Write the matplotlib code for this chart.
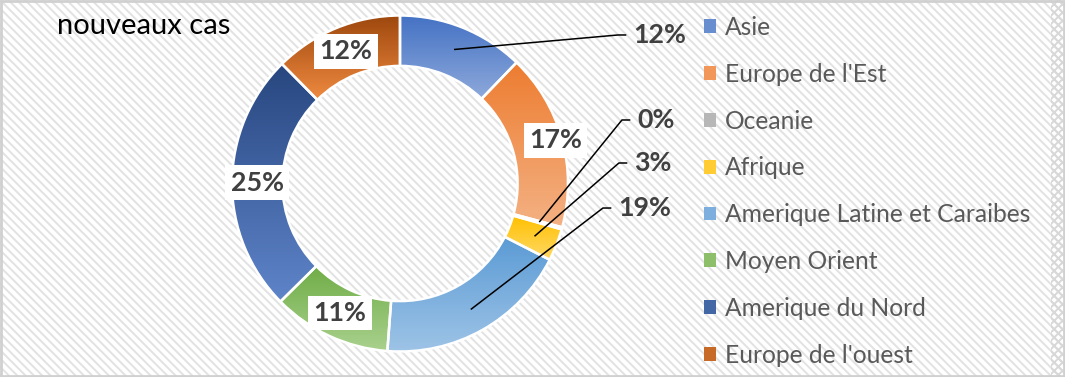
import numpy as np
import matplotlib
matplotlib.use("Agg")
import matplotlib.pyplot as plt
from matplotlib.patches import Rectangle, Patch
from matplotlib.colors import to_rgb

# data
regions = ["Asie", "Europe de l'Est", "Oceanie", "Afrique",
           "Amerique Latine et Caraibes", "Moyen Orient",
           "Amerique du Nord", "Europe de l'ouest"]
shares = [12.2, 17.0, 0.2, 3.1, 18.7, 11.4, 25.0, 12.4]

# gradient colours (top -> bottom of each slice)
tops = ["#4472C4", "#ED7D31", "#A5A5A5", "#FFC000",
        "#5B9BD5", "#70AD47", "#284780", "#9E480E"]
bottoms = ["#8EA9DB", "#F4B183", "#C9C9C9", "#FFD966",
           "#9DC3E6", "#A9D18E", "#5E84C9", "#EF8A40"]

# label layout: None = inside the ring, else left edge (x, y) of an outside label, pie units
outside = [(1.387, 0.884), None, (1.411, 0.378), (1.393, 0.122),
           (1.298, -0.146), None, None, None]
inside_r = [0.85, 0.96, 0.85, 0.85, 0.85, 0.85, 0.85, 0.85]

plt.rcParams['font.family'] = ['Lato', 'DejaVu Sans']
plt.rcParams['hatch.linewidth'] = 1.4

W, H = 1065, 377
fig = plt.figure(figsize=(W / 100, H / 100), dpi=100)
fig.patch.set_facecolor("white")

# hatched background + border, drawn in a full-figure axes
bg = fig.add_axes([0, 0, 1, 1], zorder=-10)
bg.set_xlim(0, W)
bg.set_ylim(H, 0)
bg.axis("off")
bg.add_patch(Rectangle((0, 0), W, H, facecolor="white", edgecolor="#E2E2E2",
                       hatch="\\\\\\\\", lw=0))
bg.add_patch(Rectangle((1051, 0), 12, H, facecolor="none", edgecolor="#D8D8D8",
                       hatch="xxxx", lw=0))
bg.add_patch(Rectangle((1, 1), W - 2, H - 2, facecolor="none", edgecolor="#D0D0D0",
                       lw=2, clip_on=False))

# donut axes: centre (400, 183.5) px, radius 168 px
cx, cy, R = 400, 183.5, 168
ax = fig.add_axes([(cx - R) / W, (H - cy - R) / H, 2 * R / W, 2 * R / H])
ax.set_facecolor("none")

wedges, _ = ax.pie(shares, startangle=90, counterclock=False, radius=1,
                   wedgeprops=dict(width=0.30, edgecolor="white", linewidth=1.8))

for w, c0, c1 in zip(wedges, tops, bottoms):
    w.set_facecolor("none")
    w.set_zorder(3)
    bb = w.get_path().get_extents()
    if bb.width <= 0 or bb.height <= 0:
        continue
    t = np.linspace(0, 1, 64)[:, None, None]
    grad = (1 - t) * np.array(to_rgb(c0)) + t * np.array(to_rgb(c1))
    im = ax.imshow(grad, extent=(bb.x0, bb.x1, bb.y0, bb.y1), origin="upper",
                   aspect="auto", zorder=2, interpolation="bilinear")
    im.set_clip_path(w)

ax.set_xlim(-1, 1)
ax.set_ylim(-1, 1)
ax.set_aspect("equal")
ax.axis("off")

# labels
total = sum(shares)
lab_style = dict(fontsize=19.3, fontweight="bold", color="#404040")
for w, v, pos, r in zip(wedges, shares, outside, inside_r):
    mid = np.deg2rad((w.theta1 + w.theta2) / 2)
    txt = f"{100 * v / total:.0f}%"
    if pos is None:
        ax.text(r * np.cos(mid), r * np.sin(mid), txt, ha="center", va="center",
                zorder=6, bbox=dict(boxstyle="square,pad=0.2", fc="white", ec="none"),
                **lab_style)
    else:
        x0, y0 = 0.86 * np.cos(mid), 0.86 * np.sin(mid)
        lx, ly = pos
        ax.plot([x0, lx - 0.09, lx - 0.04], [y0, ly, ly], color="black", lw=1.1,
                zorder=5, clip_on=False, solid_capstyle="butt")
        ax.text(lx, ly, txt, ha="left", va="center", zorder=6, **lab_style)

# title
fig.text(57 / W, 1 - 26 / H, "nouveaux cas", fontsize=21, color="black",
         ha="left", va="center")

# legend
handles = [Patch(facecolor=tuple((np.array(to_rgb(a)) + np.array(to_rgb(b))) / 2))
           for a, b in zip(tops, bottoms)]
fig.legend(handles, regions, loc="upper left", bbox_to_anchor=(694 / W, 1 - 6 / H),
           frameon=False, fontsize=17.7, labelcolor="#595959",
           handlelength=0.49, handleheight=0.49, handletextpad=0.37,
           labelspacing=0.97, borderaxespad=0)

fig.savefig("out.png", dpi=100)
